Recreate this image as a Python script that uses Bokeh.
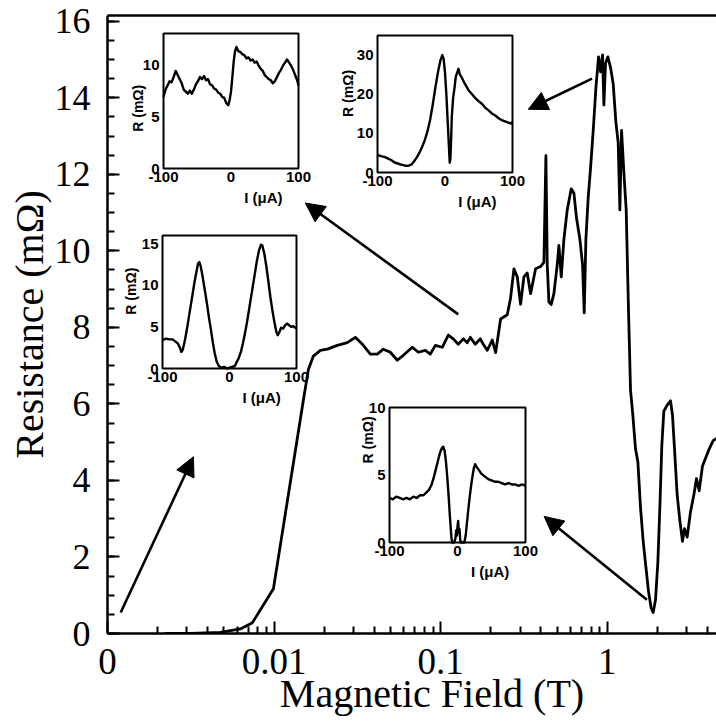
import numpy as np
from bokeh.plotting import figure
from bokeh.models import (Range1d, LinearScale, LogAxis, FixedTicker,
                          SingleIntervalTicker, Arrow, NormalHead)
from bokeh.core.properties import value
from bokeh.embed import file_html
from bokeh.resources import INLINE

# ---------------- main curve: resistance vs magnetic field ----------------
field_T = [0.00220, 0.00315, 0.00476, 0.00628, 0.00741, 0.00991, 0.01500, 0.01607,
           0.01722, 0.01896, 0.02088, 0.02398, 0.02753, 0.03075, 0.03388, 0.03784,
           0.04168, 0.04529, 0.04989, 0.05495, 0.05970, 0.06761, 0.07345, 0.08091,
           0.08670, 0.09290, 0.1023, 0.1112, 0.1191, 0.1276, 0.1368, 0.1445,
           0.1507, 0.1614, 0.1729, 0.1803, 0.1905, 0.2042, 0.2138, 0.2291,
           0.2512, 0.2630, 0.2754, 0.2884, 0.3020, 0.3162, 0.3311, 0.3467,
           0.3715, 0.3981, 0.4169, 0.4285, 0.4365, 0.4467, 0.4613, 0.4786,
           0.5012, 0.5129, 0.5297, 0.5495, 0.5754, 0.6081, 0.6310, 0.6546,
           0.6855, 0.7112, 0.7278, 0.7447, 0.7691, 0.7943, 0.8241, 0.8551,
           0.8872, 0.9120, 0.9376, 0.9550, 0.9772, 1.0093, 1.0471, 1.0864,
           1.1272, 1.1641, 1.1912, 1.2190, 1.2589, 1.3002, 1.3366, 1.3804,
           1.4256, 1.4791, 1.5276, 1.5849, 1.6444, 1.7061, 1.7701, 1.8365,
           1.8880, 1.9498, 2.0137, 2.0701, 2.1281, 2.1878, 2.2909, 2.3988,
           2.4660, 2.5351, 2.6303, 2.7290, 2.8314, 2.9107, 3.0200, 3.1623,
           3.3113, 3.4356, 3.5645, 3.7325, 3.9084, 4.0926, 4.3251, 4.5290]
resistance_mohm = [0.00, 0.00, 0.03, 0.12, 0.28, 1.17, 6.10, 6.90,
                   7.25, 7.40, 7.43, 7.53, 7.60, 7.74, 7.56, 7.30,
                   7.30, 7.43, 7.35, 7.14, 7.27, 7.48, 7.35, 7.40,
                   7.30, 7.53, 7.48, 7.80, 7.70, 7.56, 7.70, 7.60,
                   7.74, 7.56, 7.70, 7.56, 7.40, 7.67, 7.34, 8.22,
                   8.33, 8.77, 9.53, 9.32, 8.60, 9.32, 9.42, 8.88,
                   9.53, 9.59, 9.70, 12.49, 9.64, 8.66, 8.60, 8.88,
                   9.64, 10.14, 9.32, 10.30, 11.07, 11.62, 11.51, 10.85,
                   10.30, 9.64, 8.38, 10.30, 11.40, 12.16, 13.15, 14.25,
                   15.07, 14.68, 15.12, 13.81, 14.90, 15.07, 14.79, 14.36,
                   13.37, 12.82, 11.07, 13.15, 12.05, 11.07, 8.77, 6.36,
                   5.70, 4.82, 4.49, 3.29, 2.41, 1.75, 1.10, 0.66,
                   0.55, 0.88, 1.86, 3.29, 4.93, 5.81, 5.97, 6.08,
                   5.70, 4.82, 3.62, 2.96, 2.41, 2.74, 2.52, 3.18,
                   3.62, 4.05, 3.73, 4.38, 4.60, 4.82, 5.04, 5.10]

x_range_T = (0.001, 4.53)
y_range_mohm = (0, 16.15)
xtick_values = [0.001, 0.01, 0.1, 1.0]
xtick_labels = ["0", "0.01", "0.1", "1"]
x_title = "Magnetic Field (T)"
y_title = "Resistance (m\u03a9)"

# arrows (tail -> tip), in field / resistance coordinates
arrow_tail_T = [0.0012, 0.1276, 0.811, 1.73]
arrow_tail_R = [0.55, 8.34, 14.5, 0.88]
arrow_tip_T = [0.00328, 0.0154, 0.336, 0.418]
arrow_tip_R = [4.62, 11.25, 13.7, 3.06]

# ---------------- insets: R (mOhm) vs I (uA) ----------------
inset1_I = [-100, -97, -94, -91, -88, -85, -82, -79, -76, -73, -70, -67, -64, -61, -58, -55,
            -52, -49, -46, -43, -40, -37, -34, -31, -28, -25, -22, -19, -16, -13, -10, -7,
            -4, -2, 0, 2, 4, 6, 8, 11, 14, 17, 20, 23, 26, 29, 32, 35, 38, 41, 44, 47, 50,
            53, 56, 59, 62, 65, 68, 71, 74, 77, 80, 83, 86, 89, 92, 95, 98, 100]
inset1_R = [6.9, 7.6, 8.0, 8.4, 8.3, 8.8, 9.4, 9.0, 8.6, 8.2, 7.6, 7.4, 7.2, 7.5, 7.2, 7.6,
            8.1, 8.4, 8.8, 8.6, 8.9, 8.5, 8.6, 8.1, 8.0, 7.7, 7.6, 7.3, 7.2, 6.9, 6.8, 6.3,
            6.1, 6.6, 7.4, 8.8, 10.3, 11.3, 11.7, 11.3, 11.2, 11.0, 10.9, 10.6, 10.7, 10.4,
            10.5, 10.2, 10.3, 9.9, 9.6, 9.4, 9.0, 8.8, 8.6, 8.5, 8.2, 8.4, 8.8, 9.2, 9.5,
            9.9, 10.2, 10.5, 10.2, 9.9, 9.5, 9.0, 8.5, 8.0]

inset2_I = [-100, -95, -90, -85, -80, -75, -70, -65, -60, -55, -50, -46, -42, -38, -34, -30,
            -26, -22, -18, -14, -10, -7, -4, -2, 0, 2, 4, 6, 7, 8, 9, 10, 12, 14, 16, 18,
            20, 22, 24, 27, 30, 35, 40, 45, 50, 55, 60, 65, 70, 75, 80, 85, 90, 95, 98, 100]
inset2_R = [4.5, 4.2, 4.0, 3.6, 3.2, 2.6, 2.3, 2.0, 1.8, 1.7, 2.0, 2.8, 3.8, 5.0, 6.5, 8.2,
            10.5, 13.5, 17.5, 22.0, 26.0, 28.5, 30.0, 29.0, 25.5, 20.0, 13.0, 6.0, 2.5, 3.5,
            8.0, 14.0, 19.0, 21.5, 24.5, 25.5, 26.5, 25.0, 24.5, 23.5, 22.5, 21.0, 20.0,
            19.0, 18.2, 17.5, 16.5, 15.8, 15.0, 14.5, 13.8, 13.3, 13.0, 12.7, 12.5, 13.0]

inset3_I = [-100, -95, -90, -85, -80, -77, -74, -72, -70, -67, -64, -61, -58, -55, -52, -49,
            -47, -45, -43, -40, -37, -34, -31, -28, -25, -22, -19, -16, -12, -8, -4, 0, 4,
            8, 11, 14, 17, 20, 23, 26, 29, 32, 35, 38, 41, 44, 47, 49, 52, 55, 58, 61, 64,
            67, 70, 72, 74, 77, 80, 83, 86, 89, 92, 95, 98, 100]
inset3_R = [3.4, 3.6, 3.5, 3.5, 3.2, 3.0, 2.5, 2.0, 2.2, 3.2, 4.5, 6.0, 7.5, 9.0, 10.5, 11.8,
            12.6, 12.8, 12.3, 11.0, 9.5, 8.0, 6.3, 4.8, 3.2, 1.8, 0.8, 0.3, 0.1, 0.2, 0.0,
            0.1, 0.2, 0.3, 0.8, 1.3, 2.0, 3.0, 4.2, 5.5, 7.0, 8.5, 10.0, 11.5, 13.0, 14.2,
            14.9, 14.8, 13.8, 12.3, 10.5, 8.6, 7.0, 5.6, 4.4, 4.0, 4.3, 4.9, 4.8, 5.2, 5.4,
            5.2, 5.0, 5.1, 4.9, 4.8]

inset4_I = [-100, -95, -90, -85, -80, -75, -70, -65, -60, -55, -50, -46, -42, -38, -35, -32,
            -29, -26, -23, -21, -19, -17, -15, -13, -11, -9, -8, -5, -3, -2, -1, 0, 1, 2, 3,
            4, 5, 10, 12, 14, 16, 18, 20, 22, 24, 26, 28, 31, 35, 40, 45, 50, 55, 60, 65,
            70, 75, 80, 85, 90, 95, 100]
inset4_R = [3.3, 3.2, 3.4, 3.3, 3.2, 3.3, 3.2, 3.4, 3.3, 3.5, 3.5, 3.7, 3.9, 4.3, 4.8, 5.4,
            6.0, 6.6, 7.0, 7.1, 6.8, 6.0, 4.8, 3.4, 1.8, 0.4, 0.0, 0.0, 0.3, 0.9, 0.5, 1.2,
            1.6, 0.7, 1.0, 0.2, 0.0, 0.0, 0.5, 1.5, 2.5, 3.4, 4.2, 4.9, 5.5, 5.8, 5.6, 5.4,
            5.1, 4.9, 4.7, 4.6, 4.5, 4.5, 4.4, 4.3, 4.4, 4.3, 4.3, 4.2, 4.3, 4.2]

inset_xlim = (-100, 100)
inset_ymax = [13, 35, 16, 10]
inset_yticks = [[0, 5, 10], [0, 10, 20, 30], [0, 5, 10, 15], [0, 5, 10]]
inset_xticks = [-100, 0, 100]
inset_xtick_labels = ["-100", "0", "100"]
inset_xlabel = "I (\u03bcA)"
inset_ylabel = "R (m\u03a9)"
inset_I = [inset1_I, inset2_I, inset3_I, inset4_I]
inset_R = [inset1_R, inset2_R, inset3_R, inset4_R]

# ---------------- layout (pixels) ----------------
W, H = 716, 727
FL, FR, FT, FB = 107, 716, 15, 633           # main frame box
inset_px = [(163, 298, 33, 168), (377, 512, 35, 172),
            (162, 296, 235, 368), (389, 525, 407, 542)]
inset_ylabel_pos = [(26, 5.8), (30, 20.2), (32, 9.3), (22, 7.6)]  # (px left of frame, data y)
x_title_pad = "\u00a0" * 4   # shifts the centred x title right, as in the reference

SANS = value("Liberation Sans")

p = figure(width=W, height=H, x_axis_type="log",
           x_range=Range1d(*x_range_T), y_range=Range1d(*y_range_mohm),
           output_backend="svg", toolbar_location=None,
           min_border_left=FL, min_border_right=W - FR,
           min_border_top=FT, min_border_bottom=H - FB)
p.grid.visible = False
p.outline_line_color = None
p.background_fill_color = "white"
p.border_fill_color = "white"

xminor = [m * 10.0 ** e for e in (-3, -2, -1, 0) for m in range(2, 10) if m * 10.0 ** e < x_range_T[1]]
xa = p.xaxis[0]
xa.ticker = FixedTicker(ticks=xtick_values, minor_ticks=xminor)
xa.major_label_overrides = dict(zip(xtick_values, xtick_labels))
xa.axis_label = x_title_pad + x_title

ya = p.yaxis[0]
ya.ticker = SingleIntervalTicker(interval=2, num_minor_ticks=4)
ya.axis_label = y_title

for ax in (xa, ya):
    ax.axis_line_width = 2.5
    ax.axis_line_color = "black"
    ax.major_tick_in = 12
    ax.major_tick_out = 0
    ax.minor_tick_in = 7
    ax.minor_tick_out = 0
    ax.major_tick_line_width = 2
    ax.minor_tick_line_width = 2
    ax.major_tick_line_color = "black"
    ax.minor_tick_line_color = "black"
    ax.major_label_text_font = "Liberation Serif"
    ax.major_label_text_font_size = "37px"
    ax.major_label_text_color = "black"
    ax.axis_label_text_font = "Liberation Serif"
    ax.axis_label_text_font_size = "40px"
    ax.axis_label_text_font_style = "normal"
    ax.axis_label_text_color = "black"

ya.major_label_text_font_size = "36px"
xa.major_label_standoff = 15
xa.axis_label_standoff = -6
ya.major_label_standoff = 17
ya.axis_label_standoff = 0

top = LogAxis(ticker=FixedTicker(ticks=[]), axis_line_width=2.5, axis_line_color="black",
              major_tick_line_color=None, minor_tick_line_color=None,
              major_label_text_font_size="0px")
p.add_layout(top, "above")

# main curve
p.line(field_T, resistance_mohm, line_width=2.8, line_color="black", line_join="round")

# arrows
for xs, ys, xe, ye in zip(arrow_tail_T, arrow_tail_R, arrow_tip_T, arrow_tip_R):
    p.add_layout(Arrow(end=NormalHead(size=19, fill_color="black", line_color="black", line_width=1),
                       x_start=xs, y_start=ys, x_end=xe, y_end=ye,
                       line_width=2.6, line_color="black"))

# insets drawn in their own linear coordinate systems
for k in range(4):
    x0, x1, y0, y1 = inset_px[k]
    ymax = inset_ymax[k]
    ux = (inset_xlim[1] - inset_xlim[0]) / (x1 - x0)
    uy = ymax / (y1 - y0)
    name = "inset%d" % (k + 1)
    p.extra_x_ranges[name] = Range1d(inset_xlim[0] - (x0 - FL) * ux, inset_xlim[1] + (FR - x1) * ux)
    p.extra_y_ranges[name] = Range1d(0 - (FB - y1) * uy, ymax + (y0 - FT) * uy)
    p.extra_x_scales[name] = LinearScale()
    p.extra_y_scales[name] = LinearScale()
    kw = dict(x_range_name=name, y_range_name=name)

    p.quad(left=[inset_xlim[0]], right=[inset_xlim[1]], bottom=[0], top=[ymax],
           fill_color=None, line_color="black", line_width=2, **kw)
    p.line(inset_I[k], inset_R[k], line_width=2.4, line_color="black", line_join="round", **kw)

    yt = inset_yticks[k]
    p.text(x=[inset_xlim[0]] * len(yt), y=yt, text=[str(v) for v in yt],
           text_align="right", text_baseline="middle", x_offset=-4,
           text_font=SANS, text_font_style="bold", text_font_size="15px", text_color="black", **kw)
    p.text(x=inset_xticks, y=[0] * len(inset_xticks), text=inset_xtick_labels,
           text_align="center", text_baseline="top", y_offset=3,
           text_font=SANS, text_font_style="bold", text_font_size="15px", text_color="black", **kw)
    p.text(x=[48], y=[0], text=[inset_xlabel], text_align="center", text_baseline="top",
           y_offset=20, text_font=SANS, text_font_style="bold", text_font_size="15px",
           text_color="black", **kw)
    d, ym = inset_ylabel_pos[k]
    p.text(x=[inset_xlim[0]], y=[ym], text=[inset_ylabel], angle=np.pi / 2,
           text_align="center", text_baseline="middle", x_offset=-d,
           text_font=SANS, text_font_style="bold", text_font_size="14px",
           text_color="black", **kw)

open("out.html", "w").write(file_html(p, INLINE))
